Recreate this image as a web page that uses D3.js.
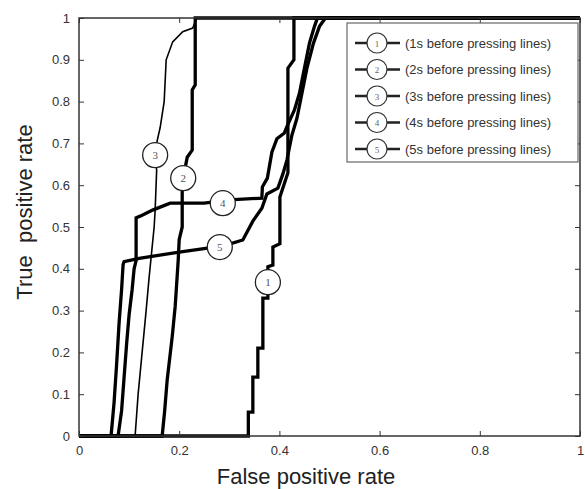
<!DOCTYPE html>
<html><head><meta charset="utf-8">
<script src="https://cdn.jsdelivr.net/npm/d3@7"></script>
<style>body{margin:0;background:#fff}</style>
</head><body><svg id="c" width="585" height="489"></svg>
<script>
const xTicks=[0,0.2,0.4,0.6,0.8,1];
const xTickLabels=["0","0.2","0.4","0.6","0.8","1"];
const yTicks=[0,0.1,0.2,0.3,0.4,0.5,0.6,0.7,0.8,0.9,1];
const yTickLabels=["0","0.1","0.2","0.3","0.4","0.5","0.6","0.7","0.8","0.9","1"];

const curve1=[[0,0],[0.338,0],[0.338,0.057],[0.347,0.057],[0.347,0.141],[0.357,0.141],[0.357,0.21],[0.367,0.21],[0.367,0.33],[0.377,0.33],[0.377,0.405],[0.387,0.409],[0.387,0.452],[0.401,0.46],[0.401,0.572],[0.417,0.63],[0.417,0.88],[0.429,0.9],[0.429,1],[1,1]];
const curve2=[[0,0],[0.166,0],[0.171,0.06],[0.176,0.134],[0.186,0.237],[0.192,0.31],[0.198,0.42],[0.2,0.47],[0.206,0.5],[0.206,0.589],[0.208,0.617],[0.216,0.667],[0.226,0.684],[0.226,0.828],[0.232,0.84],[0.232,1],[1,1]];
const curve3=[[0,0],[0.112,0],[0.118,0.1],[0.126,0.2],[0.134,0.3],[0.14,0.38],[0.145,0.44],[0.15,0.5],[0.152,0.54],[0.155,0.636],[0.152,0.672],[0.156,0.706],[0.162,0.738],[0.17,0.8],[0.174,0.9],[0.187,0.943],[0.207,0.967],[0.227,0.976],[0.235,1],[1,1]];
const curve4=[[0,0],[0.078,0],[0.085,0.06],[0.09,0.14],[0.095,0.22],[0.1,0.29],[0.106,0.35],[0.11,0.4],[0.114,0.42],[0.114,0.522],[0.122,0.526],[0.148,0.541],[0.182,0.557],[0.25,0.557],[0.3,0.565],[0.365,0.569],[0.366,0.596],[0.376,0.617],[0.385,0.679],[0.395,0.711],[0.41,0.725],[0.415,0.74],[0.43,0.78],[0.44,0.82],[0.45,0.88],[0.46,0.94],[0.47,0.98],[0.476,1],[1,1]];
const curve5=[[0,0],[0.064,0],[0.07,0.08],[0.075,0.17],[0.08,0.27],[0.085,0.35],[0.088,0.41],[0.09,0.417],[0.12,0.425],[0.2,0.44],[0.26,0.45],[0.3,0.459],[0.327,0.469],[0.347,0.514],[0.365,0.545],[0.375,0.579],[0.397,0.593],[0.407,0.627],[0.415,0.66],[0.425,0.72],[0.435,0.76],[0.445,0.82],[0.455,0.88],[0.468,0.94],[0.48,0.98],[0.492,1],[1,1]];
const curves=[curve1,curve2,curve3,curve4,curve5];
const markerNames=["1","2","3","4","5"];
const markerPos=[[0.377,0.368],[0.208,0.617],[0.152,0.672],[0.287,0.557],[0.281,0.452]];
const legendLabels=["(1s before pressing lines)","(2s before pressing lines)","(3s before pressing lines)","(4s before pressing lines)","(5s before pressing lines)"];

const svg=d3.select("#c");
const x=d3.scaleLinear().domain([0,1]).range([79,580]);
const y=d3.scaleLinear().domain([0,1]).range([436,18]);
const widths=[3.3,3.3,1.6,3.3,3.3];

const line=d3.line().x(d=>x(d[0])).y(d=>y(d[1]));
curves.forEach((c,i)=>{
  svg.append("path").attr("d",line(c)).attr("fill","none").attr("stroke","#000")
    .attr("stroke-width",widths[i]).attr("stroke-linejoin","miter");
});

// frame
svg.append("rect").attr("x",x(0)).attr("y",y(1)).attr("width",x(1)-x(0)).attr("height",y(0)-y(1))
  .attr("fill","none").attr("stroke","#333").attr("stroke-width",1.5);

// axes with inward ticks
const fmt=(arr,ticks)=>(d=>arr[ticks.indexOf(d)]);
const axB=d3.axisBottom(x).tickValues(xTicks).tickFormat(fmt(xTickLabels,xTicks)).tickSizeInner(-5).tickSizeOuter(0).tickPadding(10);
const axL=d3.axisLeft(y).tickValues(yTicks).tickFormat(fmt(yTickLabels,yTicks)).tickSizeInner(-5).tickSizeOuter(0).tickPadding(9);
const axT=d3.axisTop(x).tickValues(xTicks).tickFormat("").tickSizeInner(-5).tickSizeOuter(0);
const axR=d3.axisRight(y).tickValues(yTicks).tickFormat("").tickSizeInner(-5).tickSizeOuter(0);
function styleAx(g){g.select(".domain").remove();g.selectAll("line").attr("stroke","#333");
  g.selectAll("text").attr("fill","#333").style("font-family","Liberation Sans, Arial, sans-serif").style("font-size","13px");}
svg.append("g").attr("transform",`translate(0,${y(0)})`).call(axB).call(styleAx);
svg.append("g").attr("transform",`translate(${x(0)},0)`).call(axL).call(styleAx);
svg.append("g").attr("transform",`translate(0,${y(1)})`).call(axT).call(styleAx);
svg.append("g").attr("transform",`translate(${x(1)},0)`).call(axR).call(styleAx);

// markers on curves
markerPos.forEach((p,i)=>{
  const g=svg.append("g").attr("transform",`translate(${x(p[0])},${y(p[1])})`);
  g.append("circle").attr("r",12.5).attr("fill","#fff").attr("stroke","#222").attr("stroke-width",1.3);
  g.append("text").attr("y",4).attr("text-anchor","middle").attr("fill","#555")
    .style("font-family","Liberation Serif, serif").style("font-size","11px").text(markerNames[i]);
});

// legend
const lg=svg.append("g");
lg.append("rect").attr("x",347).attr("y",23).attr("width",231).attr("height",139)
  .attr("fill","#fff").attr("stroke","#666").attr("stroke-width",1.2);
legendLabels.forEach((t,i)=>{
  const yy=43+i*26.5;
  lg.append("line").attr("x1",355).attr("x2",400).attr("y1",yy).attr("y2",yy).attr("stroke","#222").attr("stroke-width",2.5);
  lg.append("ellipse").attr("cx",377).attr("cy",yy).attr("rx",10).attr("ry",10).attr("fill","#fff").attr("stroke","#333").attr("stroke-width",1.2);
  lg.append("text").attr("x",377).attr("y",yy+3.5).attr("text-anchor","middle").attr("fill","#666")
    .style("font-family","Liberation Serif, serif").style("font-size","9px").text(markerNames[i]);
  lg.append("text").attr("x",405).attr("y",yy+4.5).attr("fill","#333")
    .style("font-family","Liberation Sans, Arial, sans-serif").style("font-size","13px").text(t);
});

// axis titles
svg.append("text").attr("x",306).attr("y",484).attr("text-anchor","middle").attr("fill","#222")
  .style("font-family","Liberation Sans, Arial, sans-serif").style("font-size","22px").text("False positive rate");
svg.append("text").attr("transform","translate(32,212) rotate(-90)").attr("text-anchor","middle").attr("fill","#222")
  .style("font-family","Liberation Sans, Arial, sans-serif").style("font-size","22px").style("white-space","pre").text("True  positive rate");
</script></body></html>
